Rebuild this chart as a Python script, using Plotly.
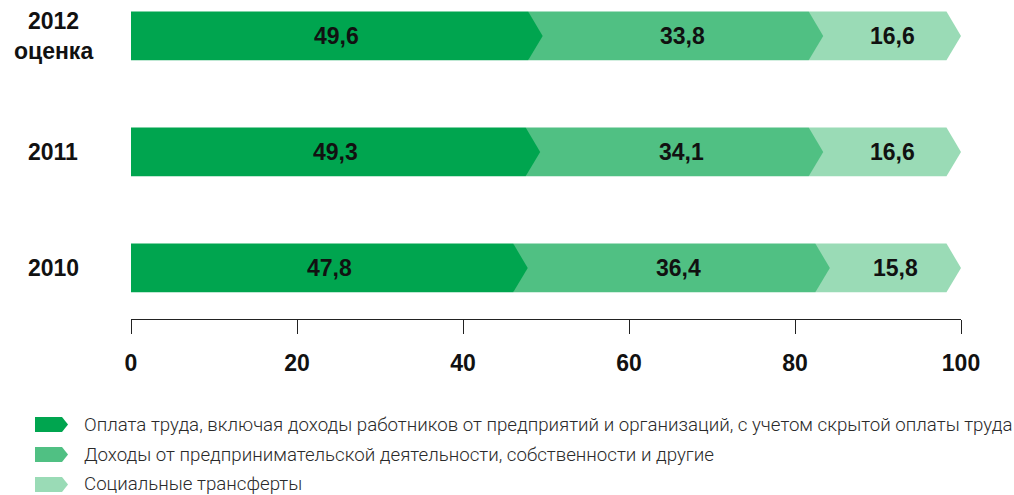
import plotly.graph_objects as go

years = ["2010", "2011", "2012<br>оценка"]
wages = [47.8, 49.3, 49.6]
business = [36.4, 34.1, 33.8]
transfers = [15.8, 16.6, 16.6]
series_names = [
    "Оплата труда, включая доходы работников от предприятий и организаций, с учетом скрытой оплаты труда",
    "Доходы от предпринимательской деятельности, собственности и другие",
    "Социальные трансферты",
]
colors = ["#00A54F", "#50C083", "#9ADBB6"]
x_ticks = [0, 20, 40, 60, 80, 100]

series = [wages, business, transfers]
D = 1.75   # arrow depth in x units
H = 0.21   # half bar height in y units

BOLD = dict(family="Liberation Sans, Arial", size=23, color="#111111", weight="bold")

fig = go.Figure()
annotations = []
for yi, year in enumerate(years):
    vals = [s[yi] for s in series]
    cums = []
    c = 0
    for v in vals:
        cums.append((c, c + v))
        c += v
    # draw back to front so the earlier arrows overlap the following segment
    for si in reversed(range(len(vals))):
        s0, s1 = cums[si]
        start = s0 if si == 0 else s0 - D
        xs = [start, s1 - D, s1, s1 - D, start, start]
        ys = [yi - H, yi - H, yi, yi + H, yi + H, yi - H]
        fig.add_trace(go.Scatter(x=xs, y=ys, fill="toself", fillcolor=colors[si],
                                 mode="lines", line=dict(width=0), hoverinfo="skip",
                                 showlegend=False))
        annotations.append(dict(x=(s0 + s1) / 2, y=yi, xref="x", yref="y",
                                text=f"{vals[si]:.1f}".replace(".", ","), showarrow=False,
                                font=BOLD, xanchor="center", yanchor="middle"))
    annotations.append(dict(x=-78 / 830, y=yi, xref="paper", yref="y", text=year,
                            showarrow=False, xanchor="center", yanchor="middle",
                            font=BOLD))

# legend drawn manually with arrow-shaped icons
shapes = []
PW, PH = 830.0, 319.0
row_px = [424.5, 454.5, 484.5]
for i, name in enumerate(series_names):
    yc = row_px[i]
    pts = [(35, yc - 7.5), (62, yc - 7.5), (68, yc), (62, yc + 7.5), (35, yc + 7.5)]
    path = "M " + " L ".join(f"{(px - 131) / PW:.5f},{(319 - py) / PH:.5f}" for px, py in pts) + " Z"
    shapes.append(dict(type="path", xref="paper", yref="paper", path=path,
                       fillcolor=colors[i], line=dict(width=0)))
    annotations.append(dict(x=(82 - 131) / PW, y=(319 - yc) / PH, xref="paper", yref="paper",
                            text=name, showarrow=False, xanchor="left", yanchor="middle",
                            font=dict(family="Roboto", size=18.7, color="#2a2a2a", weight=300)))

fig.update_layout(
    width=1014, height=495,
    margin=dict(l=131, r=53, t=0, b=176),
    plot_bgcolor="white", paper_bgcolor="white",
    shapes=shapes, annotations=annotations,
    xaxis=dict(range=[0, 100], tickvals=x_ticks, ticktext=[str(t) for t in x_ticks],
               showgrid=False, zeroline=False, showline=True, linecolor="#222222", linewidth=1,
               ticks="outside", ticklen=14, tickcolor="#222222", tickwidth=1,
               ticklabelstandoff=9,
               tickfont=dict(family="Liberation Sans, Arial", size=23, color="#111111", weight="bold")),
    yaxis=dict(range=[-0.44, 2.31], showgrid=False, zeroline=False, showticklabels=False,
               showline=False),
)

fig.write_html("out.html", config={"displayModeBar": False},
               post_script="document.body.style.margin='0';")
